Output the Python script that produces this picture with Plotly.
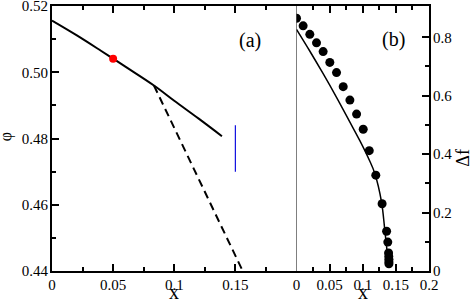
import plotly.graph_objects as go

# ---- Panel (a) data ----
phi_x = [0, 0.02, 0.04, 0.05, 0.06, 0.0834, 0.1, 0.12, 0.139]
phi_y = [0.5156, 0.5112, 0.5065, 0.5041, 0.5017, 0.4960, 0.4914, 0.4860, 0.4807]
dash_x = [0.0834, 0.156]
dash_y = [0.4960, 0.44]
red_x = [0.05]
red_y = [0.5041]
blue_x = [0.15, 0.15]
blue_y = [0.470, 0.484]

# ---- Panel (b) data ----
dot_x = [0, 0.01, 0.0201, 0.0302, 0.0402, 0.0503, 0.0604, 0.0705, 0.0806, 0.0907,
         0.1007, 0.1098, 0.1197, 0.1292, 0.136, 0.1378, 0.139, 0.1393, 0.1395, 0.1395, 0.1395]
dot_y = [0.865, 0.839, 0.810, 0.781, 0.751, 0.714, 0.679, 0.631, 0.585, 0.537,
         0.485, 0.412, 0.328, 0.230, 0.136, 0.099, 0.062, 0.050, 0.040, 0.032, 0.025]
curve_x = [0, 0.02, 0.04, 0.06, 0.08, 0.0956, 0.11, 0.1182, 0.1283, 0.1333, 0.139]
curve_y = [0.827, 0.753, 0.676, 0.596, 0.512, 0.446, 0.379, 0.334, 0.237, 0.140, 0.020]

# ---- Axis ranges and ticks ----
xa_range = [0, 0.2]
ya_range = [0.44, 0.52]
xb_range = [0, 0.2]
yb_range = [0, 0.907]

xa_ticks = [0, 0.05, 0.1, 0.15]
xa_text = ["0", "0.05", "0.1", "0.15"]
xa_minor = [0.025, 0.075, 0.125, 0.175]
ya_ticks = [0.44, 0.46, 0.48, 0.50, 0.52]
ya_text = ["0.44", "0.46", "0.48", "0.50", "0.52"]
ya_minor = [0.45, 0.47, 0.49, 0.51]
xb_ticks = [0, 0.05, 0.1, 0.15, 0.2]
xb_text = ["0", "0.05", "0.1", "0.15", "0.2"]
xb_minor = [0.025, 0.075, 0.125, 0.175]
yb_ticks = [0, 0.2, 0.4, 0.6, 0.8]
yb_text = ["0", "0.2", "0.4", "0.6", "0.8"]
yb_minor = [0.1, 0.3, 0.5, 0.7]

FONT = "Liberation Serif"
INK = "black"
W, H = 471, 300
ML, MR, MT, MB = 52, 42, 6, 29
PW = W - ML - MR
XSPLIT = 244.5 / PW

fig = go.Figure()

# thin divider between the two panels (x = 0 of panel b)
fig.add_trace(go.Scatter(x=[xb_range[0], xb_range[0]], y=[yb_range[0], yb_range[1]], mode="lines",
                         line=dict(color=INK, width=1), xaxis="x2", yaxis="y2",
                         showlegend=False, hoverinfo="skip", cliponaxis=False))

# data
fig.add_trace(go.Scatter(x=phi_x, y=phi_y, mode="lines", line=dict(color="black", width=2, shape="spline"),
                         xaxis="x", yaxis="y", showlegend=False))
fig.add_trace(go.Scatter(x=dash_x, y=dash_y, mode="lines", line=dict(color="black", width=2, dash="8px,5px"),
                         xaxis="x", yaxis="y", showlegend=False))
fig.add_trace(go.Scatter(x=blue_x, y=blue_y, mode="lines", line=dict(color="#1010e0", width=1.2),
                         xaxis="x", yaxis="y", showlegend=False))
fig.add_trace(go.Scatter(x=red_x, y=red_y, mode="markers", marker=dict(color="#ff0000", size=8),
                         xaxis="x", yaxis="y", showlegend=False))
fig.add_trace(go.Scatter(x=curve_x, y=curve_y, mode="lines", line=dict(color="black", width=1.5, shape="spline"),
                         xaxis="x2", yaxis="y2", showlegend=False))
fig.add_trace(go.Scatter(x=dot_x, y=dot_y, mode="markers", marker=dict(color="black", size=9),
                         xaxis="x2", yaxis="y2", showlegend=False))

common = dict(showgrid=False, zeroline=False, showline=True, linecolor=INK, linewidth=2,
              ticks="inside", ticklen=7, tickwidth=1.5, tickcolor=INK,
              automargin=False, ticklabeloverflow="allow", fixedrange=True, ticklabelstandoff=-1,
              tickfont=dict(family=FONT, size=15, color="black"))


def minor(vals):
    return dict(ticks="inside", ticklen=4, tickwidth=1.5, tickcolor=INK, tickvals=vals, showgrid=False)


fig.update_layout(
    template="none",
    width=W, height=H,
    margin=dict(l=ML, r=MR, t=MT, b=MB, autoexpand=False),
    plot_bgcolor="white", paper_bgcolor="white",
    xaxis=dict(domain=[0, XSPLIT], range=xa_range, tickvals=xa_ticks, ticktext=xa_text,
               anchor="y", mirror="ticks", minor=minor(xa_minor), **common),
    yaxis=dict(domain=[0, 1], range=ya_range, tickvals=ya_ticks, ticktext=ya_text, anchor="x",
               mirror=False, minor=minor(ya_minor), **common),
    xaxis2=dict(domain=[XSPLIT, 1], range=xb_range, tickvals=xb_ticks, ticktext=xb_text,
                anchor="y2", mirror="ticks", minor=minor(xb_minor), **common),
    yaxis2=dict(domain=[0, 1], range=yb_range, tickvals=yb_ticks, ticktext=yb_text, anchor="x2",
                side="right", mirror=False, minor=minor(yb_minor), **common),
    annotations=[
        dict(text="(a)", xref="x", yref="y", x=0.1622, y=0.5097, showarrow=False,
             xanchor="center", yanchor="middle", font=dict(family=FONT, size=20, color="black")),
        dict(text="(b)", xref="x2", yref="y2", x=0.1466, y=0.791, showarrow=False,
             xanchor="center", yanchor="middle", font=dict(family=FONT, size=20, color="black")),
        dict(text="φ", xref="paper", yref="paper", x=-0.1202, y=0.5077, textangle=-90,
             xanchor="center", yanchor="middle",
             showarrow=False, font=dict(family=FONT, size=16, color="black")),
        dict(text="Δf", xref="paper", yref="paper", x=1.0902, y=0.4277, textangle=-90,
             xanchor="center", yanchor="middle",
             showarrow=False, font=dict(family=FONT, size=18, color="black")),
        dict(text="x", xref="paper", yref="paper", x=0.3244, y=-0.0786,
             xanchor="center", yanchor="middle",
             showarrow=False, font=dict(family=FONT, size=20, color="black")),
        dict(text="x", xref="paper", yref="paper", x=0.8247, y=-0.0786,
             xanchor="center", yanchor="middle",
             showarrow=False, font=dict(family=FONT, size=20, color="black")),
    ],
)

fig.write_html("out.html", config={"displayModeBar": False},
               post_script="document.body.style.margin='0px';")
